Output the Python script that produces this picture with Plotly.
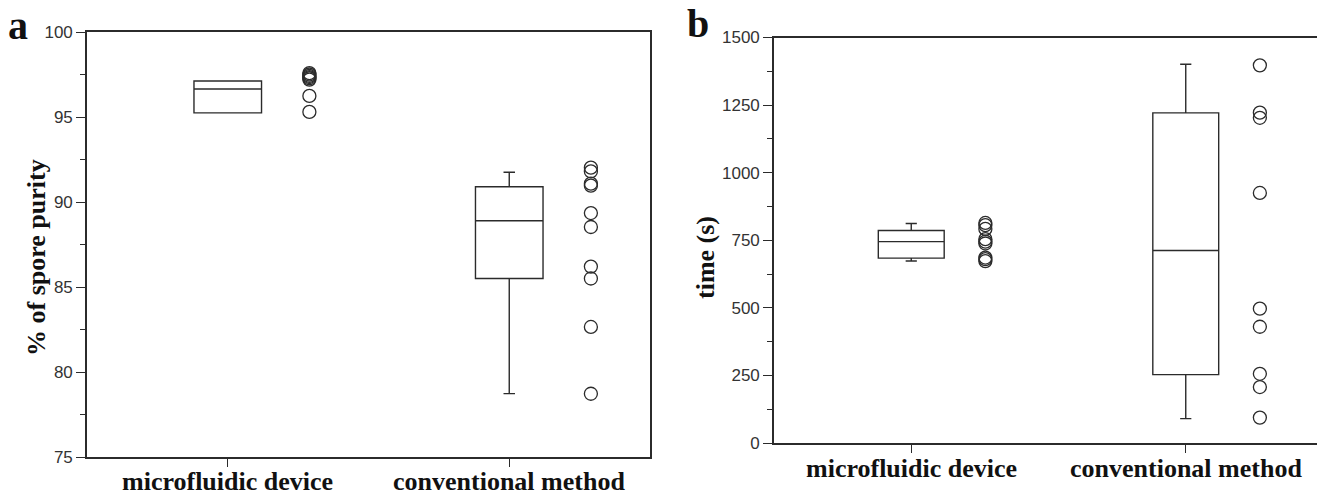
import plotly.graph_objects as go

# ---------------- data ----------------
categories = ["microfluidic device", "conventional method"]
cat_pos = [1, 2]

# panel a : % of spore purity (box statistics as drawn)
purity_q1 = [95.24, 85.5]
purity_median = [96.65, 88.9]
purity_q3 = [97.12, 90.9]
purity_low = [95.24, 78.73]
purity_high = [97.12, 91.75]
purity_points_micro = [97.58, 97.5, 97.42, 97.35, 97.28, 97.2, 96.24, 95.3]
purity_points_conv = [92.02, 91.8, 91.08, 90.96, 89.35, 88.53, 86.2, 85.5, 82.65, 78.72]

# panel b : time (s)
time_q1 = [684, 253]
time_median = [745, 712]
time_q3 = [786, 1221]
time_low = [673, 90]
time_high = [812, 1401]
time_points_micro = [814, 806, 792, 754, 745, 738, 686, 680, 673]
time_points_conv = [1397, 1222, 1203, 925, 497, 430, 256, 207, 94]

purity_ticks = [75, 80, 85, 90, 95, 100]
time_ticks = [0, 250, 500, 750, 1000, 1250, 1500]

# ---------------- style ----------------
INK = "#2b2b2b"
SERIF = "Liberation Serif, Times New Roman, serif"
SANS = "Liberation Sans, Arial, sans-serif"
BOX_W = 0.24
PT_OFF = 0.29

# page has an 8px body margin: figure sized to fit the 1325x494 window
OX, OY = 8, 8
W, H = 1325 - OX, 494 - OY


def px(x):
    return (x - OX) / W


def py(y):
    return 1 - (y - OY) / H


fig = go.Figure()


def add_panel(xref, yref, q1, med, q3, lo, hi, pts_list, off):
    for i, cx in enumerate(cat_pos):
        fig.add_trace(go.Box(
            x=[cx], q1=[q1[i]], median=[med[i]], q3=[q3[i]],
            lowerfence=[lo[i]], upperfence=[hi[i]],
            width=BOX_W, whiskerwidth=0.17,
            line=dict(color=INK, width=1.4),
            fillcolor="rgba(0,0,0,0)", boxpoints=False,
            xaxis=xref, yaxis=yref, showlegend=False, hoverinfo="skip"))
    for cx, pts in zip(cat_pos, pts_list):
        fig.add_trace(go.Scatter(
            x=[cx + off] * len(pts), y=pts, mode="markers",
            marker=dict(symbol="circle-open", size=13, color=INK,
                        line=dict(width=1.3, color=INK)),
            xaxis=xref, yaxis=yref, showlegend=False, hoverinfo="skip"))


add_panel("x", "y", purity_q1, purity_median, purity_q3, purity_low, purity_high,
          [purity_points_micro, purity_points_conv], PT_OFF)
add_panel("x2", "y2", time_q1, time_median, time_q3, time_low, time_high,
          [time_points_micro, time_points_conv], PT_OFF - 0.02)

ax_common = dict(showline=True, linecolor=INK, linewidth=1.6, mirror=True,
                 showgrid=False, zeroline=False, automargin=False)
xcat = dict(ax_common, range=[0.5, 2.5], tickmode="array", tickvals=cat_pos,
            showticklabels=False,
            ticks="outside", ticklen=8, tickwidth=1.4, tickcolor=INK)
ycommon = dict(ax_common, ticks="outside", ticklen=9, tickwidth=1.4, tickcolor=INK,
               tickfont=dict(family=SANS, size=17, color="#333"))

fig.update_layout(
    width=W, height=H, margin=dict(l=0, r=0, t=0, b=0, autoexpand=False),
    paper_bgcolor="white", plot_bgcolor="white",
    xaxis=dict(xcat, domain=[px(87), px(650)], anchor="y"),
    yaxis=dict(ycommon, domain=[py(457), py(32)], anchor="x",
               range=[75, 100], tickvals=purity_ticks,
               minor=dict(ticks="outside", ticklen=5, dtick=2.5, tickcolor=INK, tickwidth=1.2)),
    xaxis2=dict(xcat, domain=[px(774), px(1323)], anchor="y2"),
    yaxis2=dict(ycommon, domain=[py(443), py(37.5)], anchor="x2",
                range=[0, 1500], tickvals=time_ticks,
                minor=dict(ticks="outside", ticklen=5, dtick=125, tickcolor=INK, tickwidth=1.2)),
)

ann = []


def label(text, x, y, size, xref="paper", angle=0):
    ann.append(dict(text="<b>%s</b>" % text, x=x, y=y, xref=xref, yref="paper",
                    xanchor="center", yanchor="middle", showarrow=False,
                    textangle=angle, font=dict(family=SERIF, size=size, color="#111")))


label("a", px(18), py(26), 40)
label("b", px(698), py(24), 40)
label("% of spore purity", px(36), py(258), 26, angle=-90)
label("time (s)", px(705), py(257), 26, angle=-90)
for cx, c in zip(cat_pos, categories):
    label(c, cx, py(481), 26, xref="x")
    label(c, cx, py(468), 26, xref="x2")

fig.update_layout(annotations=ann)

fig.write_html("out.html")
